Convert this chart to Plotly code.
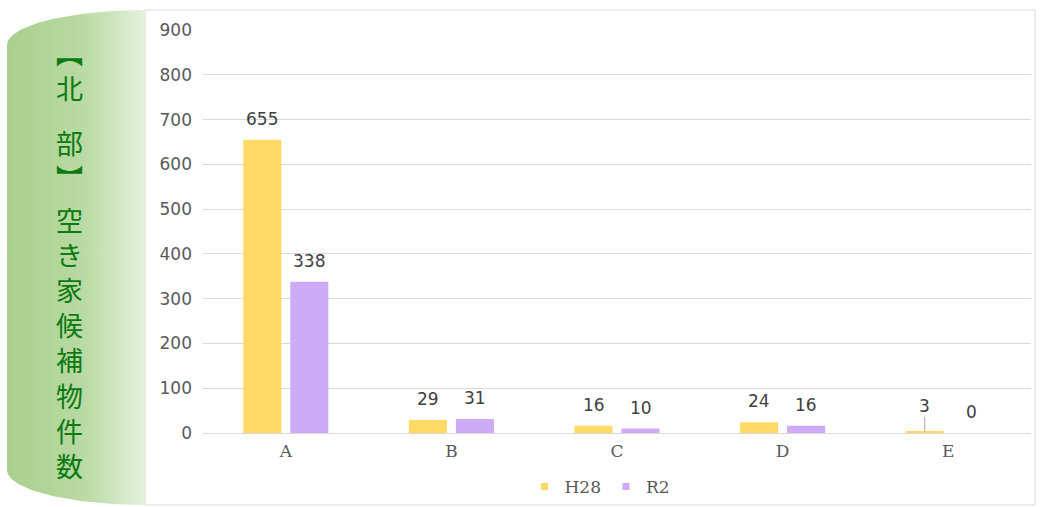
import numpy as np
import plotly.graph_objects as go

# ---- data ----
categories = ["A", "B", "C", "D", "E"]
h28_values = [655, 29, 16, 24, 3]
r2_values = [338, 31, 10, 16, 0]
series_names = ["H28", "R2"]
y_ticks = [0, 100, 200, 300, 400, 500, 600, 700, 800, 900]
panel_groups = [["\ufe3b", "北"], ["部", "\ufe3c"], ["空", "き", "家", "候", "補", "物", "件", "数"]]

W, H = 1042, 507
YELLOW = "#FFD966"
PURPLE = "#CDABF6"
GREEN_TEXT = "#0B7A12"

fig = go.Figure()

# bars
fig.add_trace(go.Bar(x=categories, y=h28_values, name=series_names[0],
                     marker=dict(color=YELLOW, line=dict(width=0)), showlegend=False))
fig.add_trace(go.Bar(x=categories, y=r2_values, name=series_names[1],
                     marker=dict(color=PURPLE, line=dict(width=0)), showlegend=False))

# legend entries with small square markers
for nm, col in zip(series_names, [YELLOW, PURPLE]):
    fig.add_trace(go.Scatter(x=[None], y=[None], mode="markers", name=nm,
                             marker=dict(symbol="square", size=7, color=col)))

# left decorative panel (pixel coordinates on a full-page helper axis)
x0p, x1p = 7, 145
t = np.linspace(0, np.pi / 2, 40)
top_x = x1p - (x1p - x0p) * np.cos(t)
top_y = 45 - 35 * np.sin(t)
bot_x = (x1p - (x1p - x0p) * np.cos(t))[::-1]
bot_y = (470 + 35 * np.sin(t))[::-1]
px = np.concatenate([top_x, bot_x])
py = np.concatenate([top_y, bot_y])
fig.add_trace(go.Scatter(
    x=px, y=py, xaxis="x2", yaxis="y2", mode="lines", fill="toself",
    line=dict(width=0), hoverinfo="skip", showlegend=False,
    fillgradient=dict(type="horizontal",
                      colorscale=[[0, "#A8D08D"], [0.55, "#B9DAA3"], [1, "#E4F1DC"]]),
))

annotations = []
# vertical title text, one stacked column per group
group_y = [70, 160, 342]
for chars, gy in zip(panel_groups, group_y):
    annotations.append(dict(
        x=69, y=gy, xref="x2", yref="y2", text="<br>".join(chars), showarrow=False,
        font=dict(family="Noto Sans CJK JP", size=27, color=GREEN_TEXT),
        xanchor="center", yanchor="middle", align="center"))

# data labels
label_font = dict(family="DejaVu Sans", size=17, color="#404040")
leader = {("E", "H28")}
for vals, nm, dx in [(h28_values, "H28", -23.5), (r2_values, "R2", 23.5)]:
    for c, v in zip(categories, vals):
        if (c, nm) in leader:
            annotations.append(dict(
                x=c, y=v, xref="x", yref="y", text=str(v), xshift=dx,
                showarrow=True, arrowhead=0, arrowwidth=1, arrowcolor="#A6A6A6",
                ax=0, ay=-26, font=label_font))
        else:
            annotations.append(dict(
                x=c, y=v, xref="x", yref="y", text=str(v), xshift=dx, yshift=21,
                showarrow=False, yanchor="middle", font=label_font))

shapes = [
    dict(type="rect", xref="paper", yref="paper",
         x0=145 / W, x1=1035 / W, y0=1 - 505 / H, y1=1 - 10 / H,
         line=dict(color="#DADADA", width=1), fillcolor="rgba(0,0,0,0)", layer="below"),
]

fig.update_layout(
    width=W, height=H,
    margin=dict(l=0, r=0, t=0, b=0, autoexpand=False),
    paper_bgcolor="white", plot_bgcolor="rgba(0,0,0,0)",
    barmode="group", bargap=0.432, bargroupgap=0.19,
    xaxis=dict(domain=[203 / W, 1031 / W], type="category", anchor="y",
               showgrid=False, showline=False, zeroline=False, ticks="",
               tickfont=dict(family="DejaVu Serif", size=17, color="#595959"),
               ticklabelstandoff=6, automargin=False),
    yaxis=dict(domain=[1 - 433 / H, 1 - 30 / H], range=[0, 900], anchor="x",
               tickvals=y_ticks, showgrid=True, gridcolor="#D9D9D9", gridwidth=1,
               zeroline=True, zerolinecolor="#D9D9D9", zerolinewidth=1,
               showline=False, ticks="", automargin=False,
               tickfont=dict(family="DejaVu Sans", size=17, color="#595959"),
               ticklabelstandoff=10),
    xaxis2=dict(domain=[0, 1], range=[0, W], visible=False, anchor="y2", automargin=False),
    yaxis2=dict(domain=[0, 1], range=[H, 0], visible=False, anchor="x2", automargin=False),
    legend=dict(orientation="h", x=600 / W, xanchor="center", y=1 - 487 / H, yanchor="middle",
                font=dict(family="DejaVu Serif", size=17, color="#595959"),
                itemwidth=30, bgcolor="rgba(0,0,0,0)"),
    annotations=annotations,
    shapes=shapes,
)

fig.write_html("out.html")
